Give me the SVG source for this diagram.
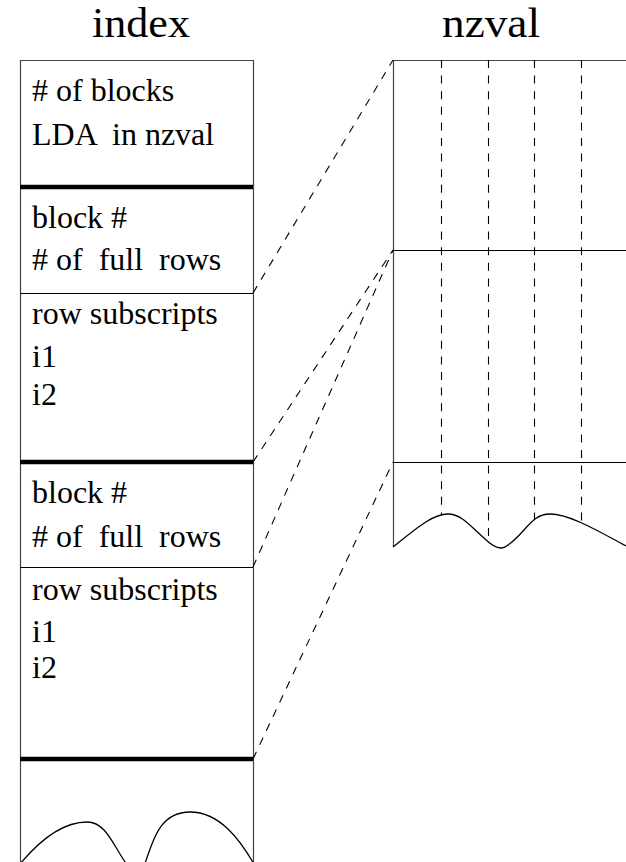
<svg xmlns="http://www.w3.org/2000/svg" width="626" height="862" viewBox="0 0 626 862">
  <style>
    text { font-family: "Liberation Serif", "Times New Roman", "DejaVu Serif", serif; fill: #000; white-space: pre; }
    .title { font-size: 42px; }
    .lbl { font-size: 32px; }
    .frame { fill: none; stroke: #444; stroke-width: 1.2; }
    .thin { fill: none; stroke: #000; stroke-width: 1.2; }
    .thick { fill: none; stroke: #000; stroke-width: 4.5; }
    .wave { fill: none; stroke: #000; stroke-width: 1.3; }
    .dash { fill: none; stroke: #000; stroke-width: 1.1; stroke-dasharray: 8 7.6; }
  </style>

  <!-- column headings -->
  <g id="titles" font-family="Liberation Serif, Times New Roman, serif">
    <text class="title" x="92" y="37" textLength="98" lengthAdjust="spacingAndGlyphs">index</text>
    <text class="title" x="442" y="37" textLength="98" lengthAdjust="spacingAndGlyphs">nzval</text>
  </g>

  <!-- index array -->
  <g id="index" font-family="Liberation Serif, Times New Roman, serif">
    <path class="frame" d="M20.5,862 V60.5 H253.5 V862"/>
    <g id="index-header">
      <text class="lbl" x="32" y="101"># of blocks</text>
      <text class="lbl" x="32" y="145">LDA  in nzval</text>
    </g>
    <line class="thick" x1="20" y1="187" x2="253" y2="187"/>
    <g id="index-block1">
      <text class="lbl" x="32" y="228">block #</text>
      <text class="lbl" x="32" y="270"># of  full  rows</text>
      <line class="thin" x1="20" y1="293.5" x2="253" y2="293.5"/>
      <text class="lbl" x="32" y="324">row subscripts</text>
      <text class="lbl" x="32" y="367">i1</text>
      <text class="lbl" x="32" y="405">i2</text>
    </g>
    <line class="thick" x1="20" y1="462" x2="253" y2="462"/>
    <g id="index-block2">
      <text class="lbl" x="32" y="503">block #</text>
      <text class="lbl" x="32" y="547"># of  full  rows</text>
      <line class="thin" x1="20" y1="567.5" x2="253" y2="567.5"/>
      <text class="lbl" x="32" y="600">row subscripts</text>
      <text class="lbl" x="32" y="642">i1</text>
      <text class="lbl" x="32" y="678">i2</text>
    </g>
    <line class="thick" x1="20" y1="759" x2="253" y2="759"/>
    <path class="wave" d="M20,864 C40,840 62,822 87,822 C107,822 114,848 128,866 L136,880 L144,866 C152,846 157,812 190,812 C220,812 240,840 254,864"/>
  </g>

  <!-- nzval array -->
  <g id="nzval">
    <path class="frame" d="M393.5,547 V60.5 H626"/>
    <line class="thin" x1="393" y1="250.5" x2="626" y2="250.5"/>
    <line class="thin" x1="393" y1="462.5" x2="626" y2="462.5"/>
    <line class="dash" x1="441.5" y1="60" x2="441.5" y2="515"/>
    <line class="dash" x1="488.5" y1="60" x2="488.5" y2="542"/>
    <line class="dash" x1="534.5" y1="60" x2="534.5" y2="519"/>
    <line class="dash" x1="581.5" y1="60" x2="581.5" y2="523"/>
    <path class="wave" d="M393,547 C418,527 433,514 448,514 C462,514 472,528 484,538 C492,546 497,548 501,548 C507,548 515,540 524,530 C532,521 538,514 550,514 C570,514 600,532 626,546"/>
  </g>

  <!-- connectors from index blocks to nzval blocks -->
  <g id="connectors">
    <line class="dash" x1="253" y1="293" x2="393" y2="60"/>
    <line class="dash" x1="253" y1="462" x2="393" y2="250"/>
    <line class="dash" x1="253" y1="567" x2="393" y2="250"/>
    <line class="dash" x1="253" y1="759" x2="393" y2="462"/>
  </g>
</svg>
